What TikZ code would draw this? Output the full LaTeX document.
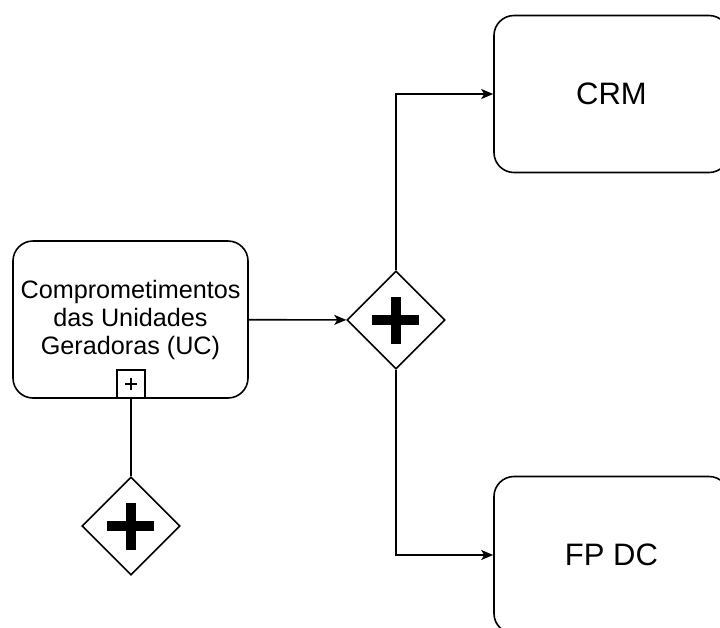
\documentclass[tikz,border=0pt]{standalone}
\usepackage{fontspec}
\setmainfont{Liberation Sans}
\usetikzlibrary{arrows.meta,shapes.geometric}

\begin{document}
\begin{tikzpicture}[x=0.5pt, y=-0.5pt, >={Stealth[length=6pt,width=5pt,inset=1.5pt]},
  line width=0.8pt,
  task/.style={draw, rounded corners=10pt, minimum width=117.5pt, minimum height=78.5pt,
    align=center, inner sep=0pt},
  gateway/.style={diamond, draw, shape aspect=1, minimum width=49pt, minimum height=49pt,
    inner sep=0pt, fill=white,
    path picture={
      \fill[black] ([xshift=-11.75pt,yshift=-2.5pt]path picture bounding box.center)
        rectangle ([xshift=11.75pt,yshift=2.5pt]path picture bounding box.center);
      \fill[black] ([xshift=-2.5pt,yshift=-11.75pt]path picture bounding box.center)
        rectangle ([xshift=2.5pt,yshift=11.75pt]path picture bounding box.center);}},
  marker/.style={draw, minimum size=14pt, inner sep=0pt, fill=white}]
\useasboundingbox (0,0) rectangle (720,628);
\clip (0,0) rectangle (720,628);

\node[task, font=\fontsize{12.6}{14}\selectfont] (uc) at (130.5,319.5)
  {Comprometimentos\\das Unidades\\Geradoras (UC)};
\node[task, font=\fontsize{15.5}{18}\selectfont] (crm) at (611.5,94) {CRM};
\node[task, font=\fontsize{15.5}{18}\selectfont] (fpdc) at (611.5,555) {FP DC};

\node[gateway] (g1) at (396,320) {};
\node[gateway] (g2) at (131,526) {};

% subprocess marker
\node[marker] (sub) at (131,384) {};
\draw[line width=0.6pt] ([xshift=-2.8pt]sub.center) -- ([xshift=2.8pt]sub.center);
\draw[line width=0.6pt] ([yshift=-2.8pt]sub.center) -- ([yshift=2.8pt]sub.center);

\draw[->] (uc) -- (g1);
\draw[->] (g1.north) |- (crm.west);
\draw[->] (g1.south) |- (fpdc.west);
\draw (sub.south) -- (g2.north);
\end{tikzpicture}
\end{document}
